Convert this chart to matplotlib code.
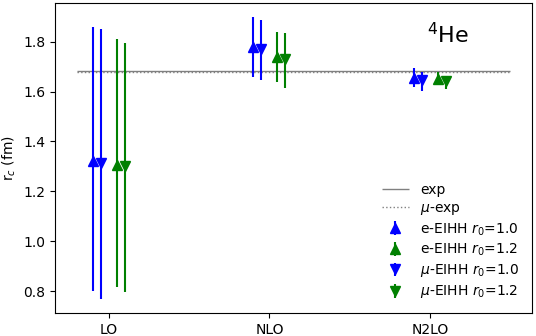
import matplotlib
matplotlib.use("Agg")
import matplotlib.pyplot as plt
import numpy as np

# orders and measured radii (fm)
orders = ["LO", "NLO", "N2LO"]
exp_rc = 1.681
mu_exp_rc = 1.6782

# central values and asymmetric bars (lower, upper) per series
e_r10 = [1.320, 1.780, 1.654]
e_r10_lo = [0.520, 0.120, 0.036]
e_r10_hi = [0.538, 0.120, 0.042]

e_r12 = [1.305, 1.738, 1.651]
e_r12_lo = [0.488, 0.098, 0.024]
e_r12_hi = [0.506, 0.100, 0.029]

mu_r10 = [1.314, 1.770, 1.647]
mu_r10_lo = [0.544, 0.123, 0.043]
mu_r10_hi = [0.536, 0.117, 0.033]

mu_r12 = [1.300, 1.730, 1.644]
mu_r12_lo = [0.504, 0.114, 0.034]
mu_r12_hi = [0.494, 0.104, 0.019]

fig = plt.figure(figsize=(5.36, 3.36), dpi=100)
ax = fig.add_axes([0.1026, 0.0685, 0.89, 0.9225])

x = np.arange(len(orders))

ax.hlines(exp_rc, -0.2, 2.5, color="grey", lw=1, label="exp")
ax.hlines(mu_exp_rc, -0.2, 2.5, color="grey", lw=1, linestyle=":", label=r"$\mu$-exp")

series = [
    (e_r10, e_r10_lo, e_r10_hi, -0.10, "^", "blue", r"e-EIHH $r_0$=1.0"),
    (e_r12, e_r12_lo, e_r12_hi, 0.05, "^", "green", r"e-EIHH $r_0$=1.2"),
    (mu_r10, mu_r10_lo, mu_r10_hi, -0.05, "v", "blue", r"$\mu$-EIHH $r_0$=1.0"),
    (mu_r12, mu_r12_lo, mu_r12_hi, 0.10, "v", "green", r"$\mu$-EIHH $r_0$=1.2"),
]
for vals, lo, hi, off, mk, col, lab in series:
    ax.errorbar(x + off, vals, yerr=[lo, hi], fmt=mk, color=col, ms=6.5, label=lab)

ax.set_xticks(x)
ax.set_xticklabels(orders)
ax.set_ylabel(r"r$_c$ (fm)")
ax.set_ylim(0.712, 1.955)
ax.text(0.78, 0.87, r"$^4$He", transform=ax.transAxes, fontsize=16)
ax.legend(loc="lower right", frameon=False, labelspacing=0.3)

fig.savefig("out.png", dpi=100)
